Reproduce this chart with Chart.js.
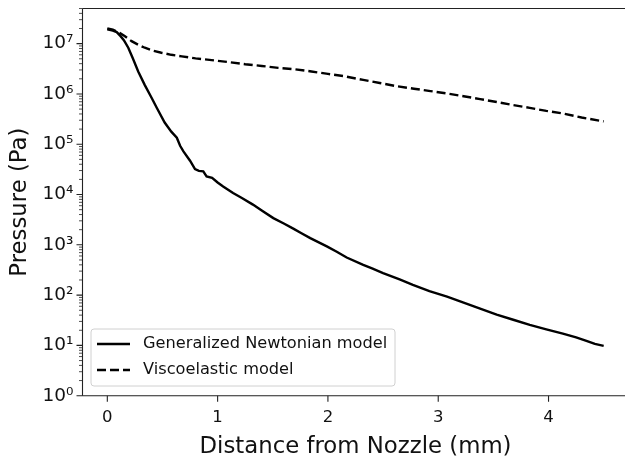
<!DOCTYPE html>
<html>
<head>
<meta charset="utf-8">
<script src="https://cdn.jsdelivr.net/npm/chart.js@4.4.1/dist/chart.umd.min.js"></script>
<style>
  html, body { margin: 0; padding: 0; background: #fff; overflow: hidden; width: 625px; height: 462px; }
  #wrap { width: 640px; height: 462px; }
</style>
</head>
<body>
<div id="wrap"><canvas id="c" width="640" height="462"></canvas></div>
<script>
// ---- Data ----
const xTickValues = [0, 1, 2, 3, 4];
const yDecades = [1, 10, 100, 1e3, 1e4, 1e5, 1e6, 1e7];
const yTickLabels = ['10\u2070', '10\u00B9', '10\u00B2', '10\u00B3', '10\u2074', '10\u2075', '10\u2076', '10\u2077'];

const seriesNames = ['Generalized Newtonian model', 'Viscoelastic model'];

const newtonianX = [0.00, 0.05, 0.085, 0.12, 0.15, 0.19, 0.23, 0.28, 0.34, 0.40, 0.448, 0.52, 0.58, 0.63, 0.66, 0.69, 0.75, 0.795, 0.83, 0.87, 0.90, 0.95, 1.00, 1.05, 1.14, 1.22, 1.32, 1.40, 1.505, 1.60, 1.686, 1.76, 1.84, 1.99, 2.08, 2.17, 2.32, 2.40, 2.50, 2.65, 2.77, 2.92, 3.08, 3.23, 3.38, 3.53, 3.68, 3.83, 3.98, 4.13, 4.25, 4.35, 4.42, 4.50];
const newtonianP = [1.93e7, 1.82e7, 1.7e7, 1.41e7, 1.17e7, 8.3e6, 5.2e6, 2.8e6, 1.5e6, 8.5e5, 5.3e5, 2.7e5, 1.78e5, 1.35e5, 9.3e4, 7.2e4, 4.7e4, 3.2e4, 2.95e4, 2.9e4, 2.3e4, 2.15e4, 1.74e4, 1.45e4, 1.07e4, 8.5e3, 6.3e3, 4.8e3, 3.4e3, 2.65e3, 2.1e3, 1.7e3, 1.36e3, 930, 730, 560, 400, 340, 275, 205, 160, 120, 93, 71, 54, 41, 32.4, 25.7, 20.9, 17.2, 14.5, 12.2, 10.7, 9.8];

const viscoX = [0.00, 0.05, 0.10, 0.16, 0.22, 0.28, 0.34, 0.42, 0.49, 0.58, 0.675, 0.80, 0.946, 1.10, 1.25, 1.40, 1.55, 1.70, 1.85, 2.00, 2.15, 2.32, 2.47, 2.62, 2.78, 2.93, 3.08, 3.23, 3.38, 3.53, 3.68, 3.83, 3.98, 4.13, 4.30, 4.50];
const viscoP = [2.0e7, 1.9e7, 1.7e7, 1.4e7, 1.12e7, 9.5e6, 8.3e6, 7.2e6, 6.6e6, 6.0e6, 5.6e6, 5.1e6, 4.7e6, 4.3e6, 3.9e6, 3.6e6, 3.3e6, 3.1e6, 2.8e6, 2.5e6, 2.25e6, 1.9e6, 1.65e6, 1.43e6, 1.27e6, 1.14e6, 1.02e6, 9.0e5, 7.9e5, 6.9e5, 6.0e5, 5.3e5, 4.6e5, 4.1e5, 3.4e5, 2.85e5];

const toPoints = (xs, ys) => xs.map((x, i) => ({ x: x, y: ys[i] }));

// ---- Styling constants ----
const FONT = 'DejaVu Sans';
const AXIS_COLOR = '#222';

// Plugin: spines, tick marks (major + log minor), in-axes legend
const decorPlugin = {
  id: 'decor',
  afterDraw(chart) {
    const ctx = chart.ctx;
    const a = chart.chartArea;
    const xs = chart.scales.x, ys = chart.scales.y;
    ctx.save();
    ctx.strokeStyle = AXIS_COLOR;
    ctx.lineWidth = 1.1;
    // spines (right spine lies outside the visible window)
    ctx.beginPath();
    ctx.moveTo(a.left, a.top); ctx.lineTo(a.right, a.top);
    ctx.moveTo(a.left, a.top); ctx.lineTo(a.left, a.bottom);
    ctx.moveTo(a.left, a.bottom); ctx.lineTo(a.right, a.bottom);
    ctx.stroke();
    // x major ticks
    ctx.beginPath();
    xTickValues.forEach(v => {
      const px = xs.getPixelForValue(v);
      ctx.moveTo(px, a.bottom); ctx.lineTo(px, a.bottom + 6);
    });
    // y major ticks
    yDecades.forEach(v => {
      const py = ys.getPixelForValue(v);
      ctx.moveTo(a.left, py); ctx.lineTo(a.left - 6, py);
    });
    ctx.stroke();
    // y minor ticks
    ctx.lineWidth = 0.8;
    ctx.beginPath();
    const maxV = ys.max;
    for (let d = 1; d <= 1e7; d *= 10) {
      for (let m = 2; m <= 9; m++) {
        const v = d * m;
        if (v > maxV) break;
        const py = ys.getPixelForValue(v);
        ctx.moveTo(a.left, py); ctx.lineTo(a.left - 3.5, py);
      }
    }
    ctx.stroke();

    // legend
    const bx = 91, by = 329, bw = 304, bh = 57, r = 3;
    ctx.beginPath();
    ctx.moveTo(bx + r, by);
    ctx.lineTo(bx + bw - r, by); ctx.arcTo(bx + bw, by, bx + bw, by + r, r);
    ctx.lineTo(bx + bw, by + bh - r); ctx.arcTo(bx + bw, by + bh, bx + bw - r, by + bh, r);
    ctx.lineTo(bx + r, by + bh); ctx.arcTo(bx, by + bh, bx, by + bh - r, r);
    ctx.lineTo(bx, by + r); ctx.arcTo(bx, by, bx + r, by, r);
    ctx.closePath();
    ctx.fillStyle = 'rgba(255,255,255,0.8)';
    ctx.fill();
    ctx.strokeStyle = '#d0d0d0';
    ctx.lineWidth = 1;
    ctx.stroke();

    const rows = [344, 370];
    chart.data.datasets.forEach((ds, i) => {
      const y = rows[i];
      ctx.beginPath();
      ctx.setLineDash(ds.borderDash || []);
      ctx.lineWidth = ds.borderWidth;
      ctx.strokeStyle = ds.borderColor;
      ctx.moveTo(97, y); ctx.lineTo(130, y);
      ctx.stroke();
      ctx.setLineDash([]);
      ctx.fillStyle = '#111';
      ctx.font = '16.2px "' + FONT + '"';
      ctx.textBaseline = 'middle';
      ctx.textAlign = 'left';
      ctx.fillText(ds.label, 143, y);
    });
    ctx.restore();
  }
};

new Chart(document.getElementById('c'), {
  type: 'line',
  data: {
    datasets: [
      { label: seriesNames[0], data: toPoints(newtonianX, newtonianP), borderColor: '#000', borderWidth: 2.4, pointRadius: 0, fill: false, tension: 0 },
      { label: seriesNames[1], data: toPoints(viscoX, viscoP), borderColor: '#000', borderWidth: 2.4, borderDash: [9, 4], pointRadius: 0, fill: false, tension: 0 }
    ]
  },
  options: {
    responsive: false,
    animation: false,
    layout: { padding: { left: 0, right: 11.5, top: 8.5, bottom: 0 } },
    plugins: { legend: { display: false }, tooltip: { enabled: false } },
    scales: {
      x: {
        type: 'linear',
        min: -0.225,
        max: 4.725,
        afterBuildTicks: s => { s.ticks = xTickValues.map(v => ({ value: v })); },
        afterFit: s => { s.height = 462 - 395.7; s.paddingLeft = 0; s.paddingRight = 0; },
        grid: { display: false, drawTicks: false },
        border: { display: false },
        ticks: { padding: 12, color: '#111', font: { family: FONT, size: 16.5 }, callback: v => String(v), maxRotation: 0, autoSkip: false },
        title: { display: true, text: 'Distance from Nozzle (mm)', color: '#111', font: { family: FONT, size: 22.8 }, padding: { top: 0, bottom: 1.5 } }
      },
      y: {
        type: 'logarithmic',
        min: 1,
        max: 5.0e7,
        afterBuildTicks: s => { s.ticks = yDecades.map(v => ({ value: v })); },
        afterFit: s => { s.width = 82.5; s.paddingTop = 0; s.paddingBottom = 0; },
        grid: { display: false, drawTicks: false },
        border: { display: false },
        ticks: { padding: 9, color: '#111', font: { family: FONT, size: 18.5 }, autoSkip: false,
          callback: (v) => { const i = yDecades.indexOf(v); return i >= 0 ? yTickLabels[i] : ''; } },
        title: { display: true, text: 'Pressure (Pa)', color: '#111', font: { family: FONT, size: 22.8 }, padding: { top: 6.5, bottom: 0 } }
      }
    }
  },
  plugins: [decorPlugin]
});
</script>
</body>
</html>
